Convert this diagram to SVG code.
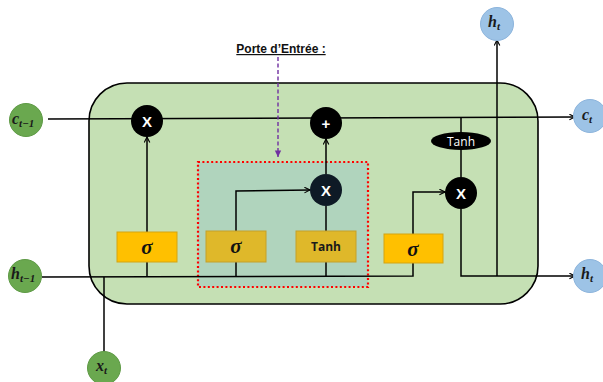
<svg xmlns="http://www.w3.org/2000/svg" width="603" height="382" viewBox="0 0 603 382">
<defs>
<marker id="arr" viewBox="0 0 10 10" refX="9" refY="5" markerWidth="7" markerHeight="7" orient="auto" markerUnits="userSpaceOnUse">
<path d="M1,1 L9,5 L1,9" fill="none" stroke="#000" stroke-width="1.6"/>
</marker>
<marker id="arrp" viewBox="0 0 10 10" refX="9" refY="5" markerWidth="8" markerHeight="8" orient="auto" markerUnits="userSpaceOnUse">
<path d="M1,1 L9,5 L1,9 Z" fill="#7030a0"/>
</marker>
</defs>
<style>
.ln{fill:none;stroke:#000;stroke-width:1.5}
.green{fill:#6aa84f;stroke:#5e9a45;stroke-width:1}
.blue{fill:#9dc3e6;stroke:#8cb4dc;stroke-width:1}
.op{fill:#000}
.lbl{font-family:"Liberation Serif",serif;font-weight:bold;font-style:italic;font-size:16px;fill:#1a1a1a}
.sub{font-size:11px}
.opt{font-family:"Liberation Sans",Arial,sans-serif;font-weight:bold;font-size:15px;fill:#fff;text-anchor:middle}
.sig{fill:#ffc000;stroke:#d4a412;stroke-width:1}
.sig2{fill:#dfb82a;stroke:#c4a02a;stroke-width:1}
.sg{font-family:"Liberation Serif",serif;font-weight:bold;font-style:italic;font-size:21px;fill:#111;text-anchor:middle}
.tt{font-family:"Open Sans","Liberation Sans",sans-serif;font-size:12px;text-anchor:middle}
</style>
<g id="cell">
<rect x="89" y="83" width="449" height="221" rx="38" ry="38" fill="#c5e0b4" stroke="#000" stroke-width="1.6"/>
</g>
<g id="input-gate-region">
<rect x="198" y="162" width="170" height="125" fill="#b0d4bd" stroke="#ff0000" stroke-width="2.2" stroke-dasharray="2,2.4"/>
</g>
<g id="connectors">
<path class="ln" d="M48,119 L575,117" marker-end="url(#arr)"/>
<path class="ln" d="M42,277 L413,276 L413,263"/>
<path class="ln" d="M104,352 L104,277"/>
<path class="ln" d="M147,276 L147,262"/>
<path class="ln" d="M147,232 L147,137" marker-end="url(#arr)"/>
<path class="ln" d="M236,276 L236,262"/>
<path class="ln" d="M236,231 L236,191 L310,190" marker-end="url(#arr)"/>
<path class="ln" d="M326,276 L326,262"/>
<path class="ln" d="M326,231 L326,206"/>
<path class="ln" d="M326,174 L326,139" marker-end="url(#arr)"/>
<path class="ln" d="M413,234 L413,192 L445,192" marker-end="url(#arr)"/>
<path class="ln" d="M461,118 L461,177"/>
<path class="ln" d="M461,209 L461,276 L575,276" marker-end="url(#arr)"/>
<path class="ln" d="M497,276 L497,40" marker-end="url(#arr)"/>
<path d="M278,57 L278,157" fill="none" stroke="#7030a0" stroke-width="1.4" stroke-dasharray="4,2.5" marker-end="url(#arrp)"/>
</g>
<g id="label-porte">
<text x="281" y="53" font-family="Liberation Sans,Arial,sans-serif" font-weight="bold" font-size="12" text-anchor="middle" fill="#111" text-decoration="underline">Porte d’Entrée :</text>
</g>
<g id="c_prev"><circle class="green" cx="26" cy="120" r="16.5"/><text class="lbl" x="12" y="124">c<tspan class="sub" dy="3">t−1</tspan></text></g>
<g id="h_prev"><circle class="green" cx="25" cy="276" r="16.5"/><text class="lbl" x="11" y="279">h<tspan class="sub" dy="3">t−1</tspan></text></g>
<g id="x_t"><circle class="green" cx="104" cy="368" r="16.5"/><text class="lbl" x="96" y="371">x<tspan class="sub" dy="3">t</tspan></text></g>
<g id="c_t"><circle class="blue" cx="590" cy="116" r="16.5"/><text class="lbl" x="582" y="120">c<tspan class="sub" dy="3">t</tspan></text></g>
<g id="h_t_top"><circle class="blue" cx="497" cy="24" r="16.5"/><text class="lbl" x="488" y="27">h<tspan class="sub" dy="3">t</tspan></text></g>
<g id="h_t_right"><circle class="blue" cx="590" cy="276" r="16.5"/><text class="lbl" x="581" y="279">h<tspan class="sub" dy="3">t</tspan></text></g>
<g id="mult_forget"><circle class="op" cx="147" cy="121" r="16"/><text class="opt" x="147" y="127">X</text></g>
<g id="add"><circle class="op" cx="326" cy="123" r="16"/><text class="opt" x="326" y="129">+</text></g>
<g id="mult_input"><circle cx="326" cy="190" r="16" fill="#0e1a26"/><text class="opt" x="326" y="196">X</text></g>
<g id="mult_output"><circle class="op" cx="461" cy="193" r="16"/><text class="opt" x="461" y="199">X</text></g>
<g id="tanh_out"><ellipse cx="461" cy="141" rx="30" ry="9" fill="#000"/><text class="tt" x="461" y="145.5" fill="#fff">Tanh</text></g>
<g id="sigma_forget"><rect class="sig" x="117" y="232" width="60" height="30"/><text class="sg" x="147" y="254">σ</text></g>
<g id="sigma_input"><rect class="sig2" x="206" y="231" width="60" height="31"/><text class="sg" x="236" y="253">σ</text></g>
<g id="tanh_input"><rect class="sig2" x="296" y="231" width="60" height="31"/><text class="tt" x="326" y="251" fill="#1a1a1a" font-weight="bold">Tanh</text></g>
<g id="sigma_output"><rect class="sig" x="384" y="234" width="59" height="29"/><text class="sg" x="413" y="256">σ</text></g>
</svg>
